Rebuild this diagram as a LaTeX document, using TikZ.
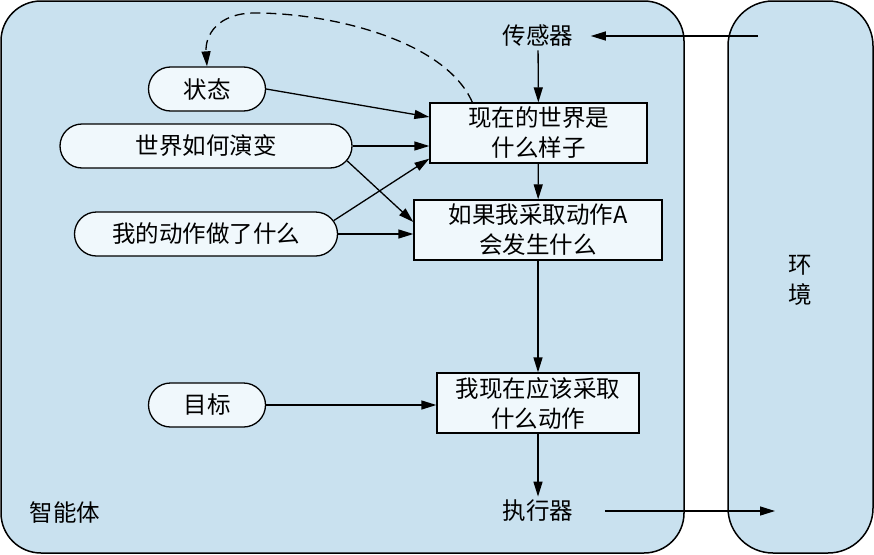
\documentclass[tikz,border=0pt]{standalone}
\usepackage{fontspec}
\setmainfont{Noto Sans CJK SC}
\usepackage{tikz}
\usetikzlibrary{arrows.meta}
\usetikzlibrary{shapes.misc}

\definecolor{panel}{HTML}{C9E1EF}
\definecolor{cellfill}{HTML}{F0F8FC}

\tikzset{
  pill/.style={rounded rectangle, draw, line width=1.3pt, fill=cellfill, minimum height=44pt, inner sep=0pt},
  stepbox/.style={rectangle, draw, line width=1.3pt, fill=cellfill, align=center, minimum height=60pt, inner sep=0pt},
  flow/.style={line width=1.3pt, -{Triangle[length=15pt,width=9pt]}},
}

\begin{document}
\begin{tikzpicture}[x=1pt,y=-1pt,font=\fontsize{23.5}{30}\selectfont]
        \useasboundingbox (0,0) rectangle (874,554);
        % agent and environment
        \draw[line width=1.5pt, fill=panel, rounded corners=40pt] (1,1) rectangle (684,553);
        \draw[line width=1.5pt, fill=panel, rounded corners=45pt] (728,1) rectangle (873,553);
        \node (agent) at (65,513) {智能体};
        \node[align=center] (env) at (800,280) {环\\境};
        % inputs
        \node[pill, minimum width=117pt] (state) at (207,89) {状态};
        \node[pill, minimum width=292pt] (evolve) at (206,146) {世界如何演变};
        \node[pill, minimum width=263pt] (done) at (206,234) {我的动作做了什么};
        \node[pill, minimum width=117pt] (goal) at (207,405) {目标};
        % steps
        \node (sensor) at (538,36) {传感器};
        \node[stepbox, minimum width=217pt] (now) at (538.5,133) {现在的世界是\\什么样子};
        \node[stepbox, minimum width=248pt] (whatif) at (538,230) {如果我采取动作A\\会发生什么};
        \node[stepbox, minimum width=202pt] (todo) at (538,403) {我现在应该采取\\什么动作};
        \node (actuator) at (538,511) {执行器};
        \coordinate (envout) at (758,36);
        \coordinate (envin) at (775,511);
        % connectors
        \draw[flow] (envout) -- ([xshift=14pt]sensor.east);
        \draw[flow] (sensor) -- (now);
        \draw[flow] (now) -- (whatif);
        \draw[flow] (whatif) -- (todo);
        \draw[flow] (todo) -- (actuator);
        \draw[flow] ([xshift=28pt]actuator.east) -- (envin);
        \draw[flow] (state.east) -- ([yshift=16pt]now.west);
        \draw[flow] (evolve.east) -- (evolve.east -| now.west);
        \draw[flow] (evolve.-6) -- ([yshift=8pt]whatif.west);
        \draw[flow] (done.6) -- ([yshift=5pt]now.south west);
        \draw[flow] (done.east) -- (done.east -| whatif.west);
        \draw[flow] (goal.east) -- (goal.east -| todo.west);
        \draw[flow, dash pattern=on 10pt off 6pt] ([xshift=43pt]now.north west) .. controls (445,40) and (330,13) .. (255,13) .. controls (218,13) and (205,35) .. (state.north);
\end{tikzpicture}
\end{document}
